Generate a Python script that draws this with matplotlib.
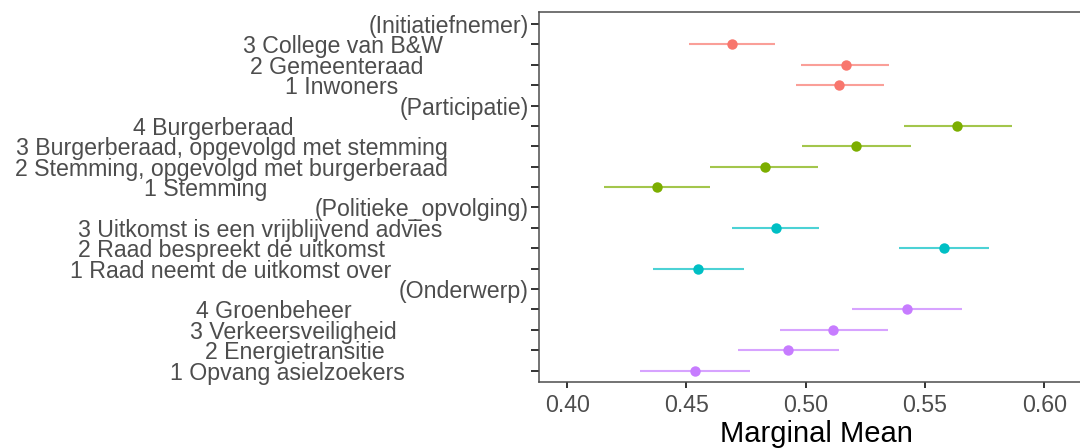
import matplotlib.pyplot as plt
from matplotlib.transforms import blended_transform_factory

plt.rcParams['font.family'] = ['Liberation Sans', 'DejaVu Sans']

# === DATA ===
groups = ["(Initiatiefnemer)", "(Participatie)", "(Politieke_opvolging)", "(Onderwerp)"]

init_levels = ["3 College van B&W", "2 Gemeenteraad", "1 Inwoners"]
init_est = [0.469, 0.517, 0.514]
init_lo = [0.451, 0.498, 0.496]
init_hi = [0.487, 0.535, 0.533]

part_levels = ["4 Burgerberaad", "3 Burgerberaad, opgevolgd met stemming",
               "2 Stemming, opgevolgd met burgerberaad", "1 Stemming"]
part_est = [0.5635, 0.521, 0.483, 0.4375]
part_lo = [0.541, 0.4985, 0.460, 0.4155]
part_hi = [0.5865, 0.544, 0.505, 0.460]

pol_levels = ["3 Uitkomst is een vrijblijvend advies", "2 Raad bespreekt de uitkomst",
              "1 Raad neemt de uitkomst over"]
pol_est = [0.4875, 0.558, 0.455]
pol_lo = [0.469, 0.539, 0.436]
pol_hi = [0.5055, 0.577, 0.474]

ond_levels = ["4 Groenbeheer", "3 Verkeersveiligheid", "2 Energietransitie", "1 Opvang asielzoekers"]
ond_est = [0.5425, 0.5115, 0.4925, 0.4535]
ond_lo = [0.5195, 0.489, 0.4715, 0.4305]
ond_hi = [0.5655, 0.5345, 0.514, 0.4765]

x_ticks = [0.40, 0.45, 0.50, 0.55, 0.60]

# === STYLE / LAYOUT ===
colors = ["#F8766D", "#7CAE00", "#00BFC4", "#C77CFF"]
# centre of each level label, in figure pixels (labels are centred per row in the original)
label_centres = [[343, 337, 342], [213, 232, 231.5, 206], [260, 231, 231], [274, 293, 294.5, 287]]

levels = [init_levels, part_levels, pol_levels, ond_levels]
ests = [init_est, part_est, pol_est, ond_est]
los = [init_lo, part_lo, pol_lo, ond_lo]
his = [init_hi, part_hi, pol_hi, ond_hi]

W, H = 1080, 448
fig = plt.figure(figsize=(W / 100, H / 100), dpi=100)
left, right, top, bottom = 539.3, 1093, 12.3, 382.3
ax = fig.add_axes([left / W, 1 - bottom / H, (right - left) / W, (bottom - top) / H])

tc = "#4D4D4D"
fs = 16.7
trans = blended_transform_factory(fig.transFigure, ax.transData)

row = 0
tick_pos, tick_lab = [], []
for g, name in enumerate(groups):
    tick_pos.append(row)
    tick_lab.append(name)
    row += 1
    for i, lev in enumerate(levels[g]):
        ax.hlines(row, los[g][i], his[g][i], color=colors[g], alpha=0.7, lw=1.5, zorder=2)
        ax.plot(ests[g][i], row, 'o', color=colors[g], ms=7.5, mec='none', zorder=3)
        ax.text(label_centres[g][i] / W, row, lev, transform=trans, ha='center',
                va='center_baseline', fontsize=fs, color=tc)
        tick_pos.append(row)
        tick_lab.append("")
        row += 1

ax.set_ylim(row - 1 + 0.57, -0.57)
ax.set_xlim(0.3883, 0.6204)
ax.set_yticks(tick_pos)
ax.set_yticklabels(tick_lab, fontsize=fs, color=tc, va='center_baseline')
ax.set_xticks(x_ticks)
ax.set_xticklabels([f"{v:.2f}" for v in x_ticks], fontsize=fs, color=tc)
ax.tick_params(axis='y', length=5.5, width=1.4, color="#333333", pad=2)
ax.tick_params(axis='x', length=4.5, width=1.4, color="#333333", pad=4)
for s in ax.spines.values():
    s.set_color("#4D4D4D")
    s.set_linewidth(1.1)

ax.set_xlabel("Marginal Mean", fontsize=21, color="black", labelpad=2)

fig.savefig("out.png", dpi=100)
